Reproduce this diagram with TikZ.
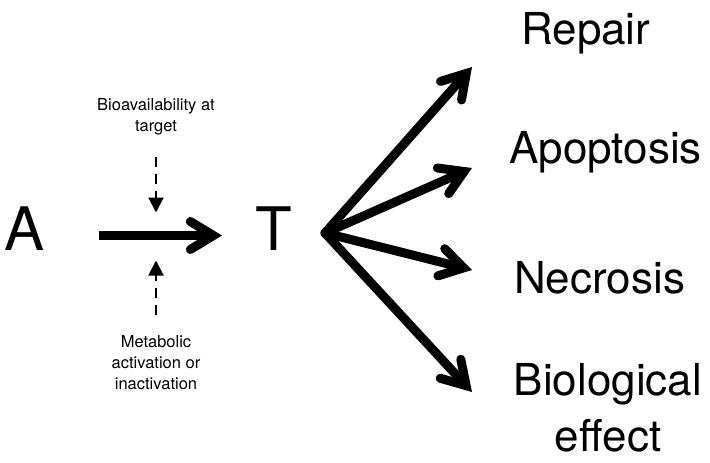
\documentclass[tikz,border=0pt]{standalone}
\usepackage{fontspec}
\setmainfont{TeX Gyre Heros}
\usetikzlibrary{arrows.meta}

\tikzset{
	fat/.style={line width=9pt, -{Straight Barb[length=23pt, width=28pt, line cap=round, line join=miter]}},
	hint/.style={line width=2pt, dash pattern=on 10pt off 7pt, -{Triangle[length=15pt, width=15pt]}},
	big/.style={font=\fontsize{60}{60}\selectfont, inner sep=0pt},
	outcome/.style={font=\fontsize{44}{56}\selectfont, inner sep=0pt, align=center},
	note/.style={font=\fontsize{16.5}{21}\selectfont, inner sep=0pt, align=center}
}

\begin{document}
\begin{tikzpicture}[x=1pt, y=-1pt]
	\useasboundingbox (0,0) rectangle (710,463);
	\node[big, anchor=base west] (A) at (4,250) {A};
	\node[big, anchor=base west] (T) at (255,250) {T};
	\coordinate (in) at (99,235.5);
	\coordinate (out) at (222,235.5);
	\draw[fat] (in) -- (out);
	% influences on the transfer
	\node[note, anchor=north] (bioav) at (156,98) {Bioavailability at\\target};
	\node[note, anchor=north] (meta) at (156,335) {Metabolic\\activation or\\inactivation};
	\coordinate (hit) at (156,235.5);
	\draw[hint, shorten <=22pt, shorten >=23pt] (bioav.south) -- (hit);
	\draw[hint, shorten <=20pt, shorten >=25pt] (meta.north) -- (hit);
	% outcomes
	\node[outcome, anchor=base west] (repair) at (521,45) {Repair};
	\node[outcome, anchor=base west] (apop) at (509,163) {Apoptosis};
	\node[outcome, anchor=base west] (necro) at (514,293) {Necrosis};
	\node[outcome, anchor=north] (effect) at (608,363) {Biological\\effect};
	\coordinate (hub) at (325,233);
	\coordinate (t1) at (472,67);
	\coordinate (t2) at (472,168);
	\coordinate (t3) at (472,270);
	\coordinate (t4) at (472,392);
	\foreach \t in {t1,t2,t3,t4}
		\draw[fat, line cap=round] (hub) -- (\t);
\end{tikzpicture}
\end{document}
